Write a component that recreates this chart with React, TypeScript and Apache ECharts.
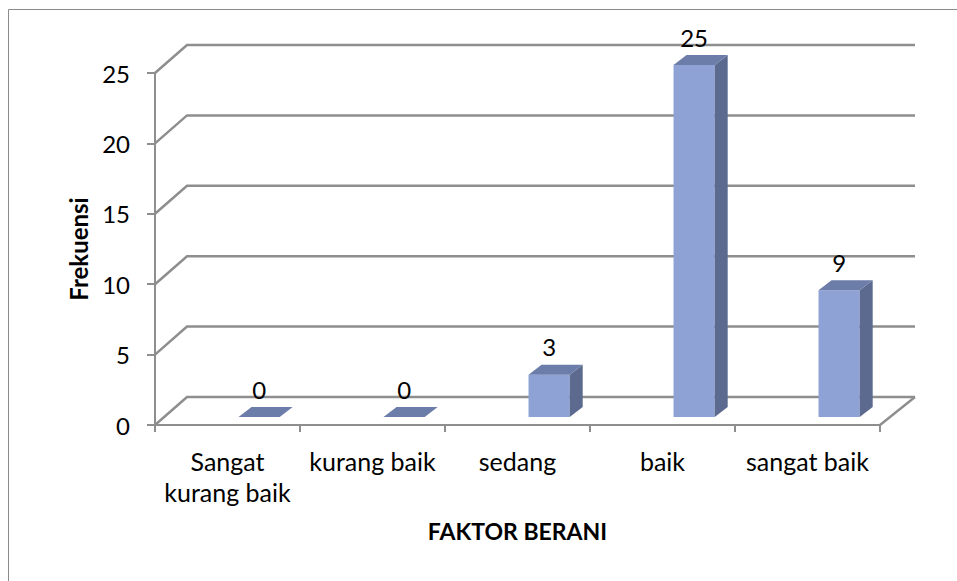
import React, { useEffect, useRef } from "react";
import * as echarts from "echarts";

const categories = ["Sangat kurang baik", "kurang baik", "sedang", "baik", "sangat baik"];
const frekuensi = [0, 0, 3, 25, 9];
const yTicks = [0, 5, 10, 15, 20, 25];

const FONT = "Lato, 'Open Sans', sans-serif";
const FRONT = "#8FA2D6";
const SIDE = "#5B6A8E";
const TOP = "#6C7DA9";
const GRIDC = "#8E8E8E";

export default function App() {
  const ref = useRef<HTMLDivElement>(null);
  useEffect(() => {
    if (!ref.current) return;
    const chart = echarts.init(ref.current, undefined, { renderer: "svg" });
    const option: any = {
      animation: false,
      backgroundColor: "#ffffff",
      textStyle: { fontFamily: FONT },
      graphic: [
        { type: "line", shape: { x1: 8.5, y1: 9.5, x2: 957, y2: 9.5 }, style: { stroke: "#8a8a8a", lineWidth: 1 } },
        { type: "line", shape: { x1: 8.5, y1: 9.5, x2: 8.5, y2: 581 }, style: { stroke: "#8a8a8a", lineWidth: 1 } },
      ],
      grid: { left: 155, top: 73, width: 725, height: 352, containLabel: false },
      xAxis: {
        type: "category",
        data: categories,
        boundaryGap: true,
        axisLine: { show: true, lineStyle: { color: GRIDC, width: 2 } },
        axisTick: { show: true, length: 7, lineStyle: { color: GRIDC, width: 2 } },
        axisLabel: {
          color: "#000",
          fontSize: 25,
          fontFamily: FONT,
          margin: 20,
          lineHeight: 31,
          interval: 0,
          formatter: (v: string) => (v === "Sangat kurang baik" ? "Sangat\nkurang baik" : v),
        },
        name: "FAKTOR BERANI",
        nameLocation: "middle",
        nameGap: 94,
        nameTextStyle: { color: "#000", fontSize: 23, fontWeight: "bold", fontFamily: FONT },
      },
      yAxis: {
        type: "value",
        min: 0,
        max: 25,
        interval: 5,
        axisLine: { show: true, lineStyle: { color: GRIDC, width: 2 } },
        axisTick: { show: true, length: 8, lineStyle: { color: GRIDC, width: 2 } },
        splitLine: { show: false },
        axisLabel: { color: "#000", fontSize: 24, fontFamily: FONT, margin: 25 },
        name: "Frekuensi",
        nameLocation: "middle",
        nameGap: 65,
        nameRotate: 90,
        nameTextStyle: { color: "#000", fontSize: 24, fontWeight: "bold", fontFamily: FONT },
      },
      series: [
        {
          type: "custom",
          z: 1,
          silent: true,
          data: yTicks.map((v) => [0, v]),
          renderItem: (params: any, api: any) => {
            const cs = params.coordSys;
            const left = cs.x;
            const right = cs.x + cs.width;
            const v = api.value(1);
            const y = api.coord([0, v])[1];
            const children: any[] = [
              {
                type: "polyline",
                shape: { points: [[left, y], [left + 32, y - 28], [right + 35, y - 28]] },
                style: { stroke: GRIDC, lineWidth: 2.5, fill: "none" },
              },
            ];
            if (v === 0) {
              children.push({
                type: "line",
                shape: { x1: right, y1: y, x2: right + 35, y2: y - 28 },
                style: { stroke: GRIDC, lineWidth: 2.5 },
              });
            }
            return { type: "group", children };
          },
        },
        {
          type: "custom",
          z: 3,
          data: frekuensi.map((v, i) => [i, v]),
          renderItem: (params: any, api: any) => {
            const i = api.value(0);
            const v = api.value(1);
            const band = api.size([1, 0])[0];
            const base = api.coord([i, 0]);
            const topP = api.coord([i, v]);
            const c = base[0];
            const yb = base[1] - 8;
            const yt = topP[1] - 8;
            const x0 = c + band * 0.076;
            const x1 = c + band * 0.36;
            const dx = 13;
            const dy = -10;
            const children: any[] = [];
            if (v === 0) {
              children.push({
                type: "polygon",
                shape: { points: [[x0, yb], [x1, yb], [x1 + dx, yb + dy], [x0 + dx, yb + dy]] },
                style: { fill: TOP },
              });
            } else {
              children.push({
                type: "rect",
                shape: { x: x0, y: yt, width: x1 - x0, height: yb - yt },
                style: { fill: FRONT },
              });
              children.push({
                type: "polygon",
                shape: { points: [[x1, yb], [x1 + dx, yb + dy], [x1 + dx, yt + dy], [x1, yt]] },
                style: { fill: SIDE },
              });
              children.push({
                type: "polygon",
                shape: { points: [[x0, yt], [x1, yt], [x1 + dx, yt + dy], [x0 + dx, yt + dy]] },
                style: { fill: TOP },
              });
            }
            children.push({
              type: "text",
              x: (x0 + x1) / 2,
              y: yt - 28,
              style: {
                text: String(v),
                fill: "#000",
                fontSize: 24,
                fontFamily: FONT,
                align: "center",
                verticalAlign: "middle",
              },
            });
            return { type: "group", children };
          },
        },
      ],
    };
    chart.setOption(option);
    return () => chart.dispose();
  }, []);
  return (
    <div
      ref={ref}
      style={{ position: "absolute", left: 0, top: 0, width: 957, height: 581 }}
    />
  );
}
